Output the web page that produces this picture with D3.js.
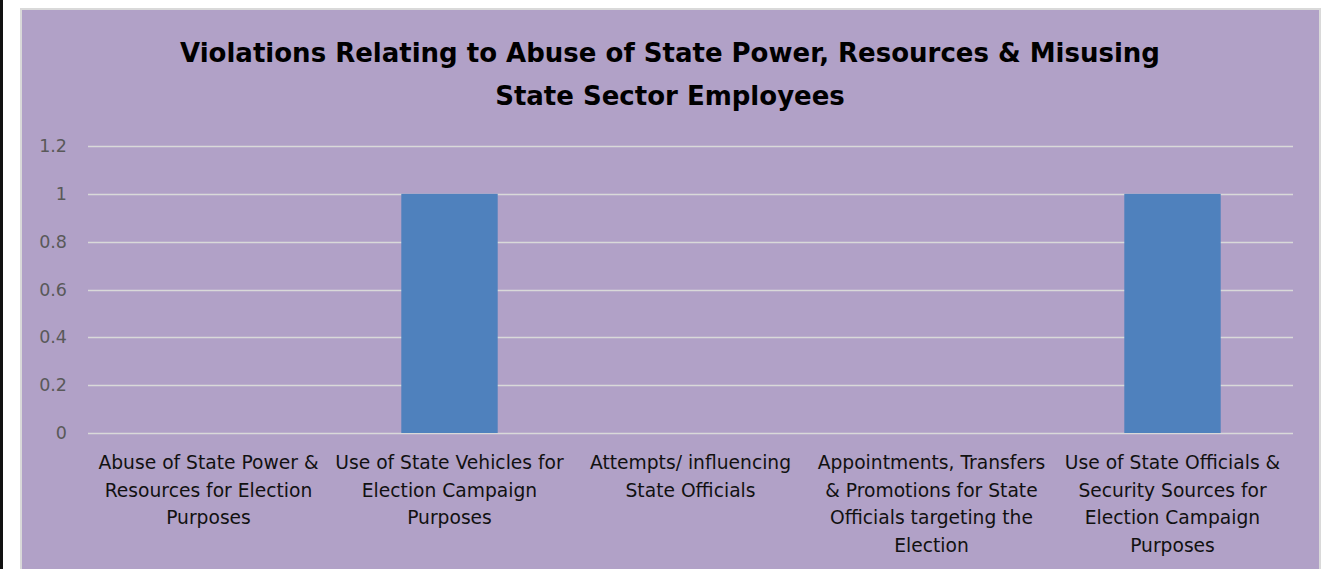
<!DOCTYPE html>
<html>
<head lang="en">
  <title>Violations chart</title>
  <script src="https://d3js.org/d3.v7.min.js" charset="utf-8"></script>
  <style>
    body { margin: 0; background: #fff; }
    svg { display: block; }
  </style>
</head>
<body>
  <script>
    // data
    var categories = [
      ["Abuse of State Power &", "Resources for Election", "Purposes"],
      ["Use of State Vehicles for", "Election Campaign", "Purposes"],
      ["Attempts/ influencing", "State Officials"],
      ["Appointments, Transfers", "& Promotions for State", "Officials targeting the", "Election"],
      ["Use of State Officials &", "Security Sources for", "Election Campaign", "Purposes"]
    ];
    var values = [0, 1, 0, 0, 1];
    var yTicks = [0, 0.2, 0.4, 0.6, 0.8, 1, 1.2];
    var titleLines = ["Violations Relating to Abuse of State Power, Resources & Misusing", "State Sector Employees"];

    var width = 1342;
    var height = 569;
    var font = "'DejaVu Sans', sans-serif";

    var svg = d3.select("body")
      .append("svg")
      .attr("width", width)
      .attr("height", height);

    // left black edge
    svg.append("rect")
      .attr("x", 0).attr("y", 0)
      .attr("width", 3).attr("height", height)
      .style("fill", "#111");

    // chart panel
    svg.append("rect")
      .attr("x", 21).attr("y", 9)
      .attr("width", 1299).attr("height", 580)
      .style("fill", "#b1a1c7")
      .style("stroke", "#d9d9d9")
      .style("stroke-width", 2);

    var x = d3.scaleBand()
      .domain(d3.range(categories.length))
      .range([88, 1293])
      .paddingInner(0.6)
      .paddingOuter(0.3);

    var y = d3.scaleLinear()
      .domain([0, 1.2])
      .range([433, 146]);

    // gridlines
    svg.append("g")
      .selectAll("line")
      .data(yTicks)
      .enter().append("line")
        .attr("x1", 88)
        .attr("x2", 1293)
        .attr("y1", function(d) { return Math.round(y(d)) + 0.5; })
        .attr("y2", function(d) { return Math.round(y(d)) + 0.5; })
        .style("stroke", "#d9d9d9")
        .style("stroke-width", 1.5);

    // y axis labels
    svg.append("g")
      .selectAll("text")
      .data(yTicks)
      .enter().append("text")
        .attr("x", 67)
        .attr("y", function(d) { return y(d); })
        .attr("dy", "0.35em")
        .attr("text-anchor", "end")
        .style("font-family", font)
        .style("font-size", "17.5px")
        .style("fill", "#595959")
        .text(function(d) { return d; });

    // bars
    svg.append("g")
      .selectAll("rect")
      .data(values)
      .enter().append("rect")
        .attr("x", function(d, i) { return x(i); })
        .attr("y", function(d) { return y(d); })
        .attr("width", x.bandwidth())
        .attr("height", function(d) { return y(0) - y(d); })
        .style("fill", "#4f81bd");

    // category labels
    var labels = svg.append("g")
      .selectAll("text")
      .data(categories)
      .enter().append("text")
        .attr("text-anchor", "middle")
        .style("font-family", font)
        .style("font-size", "18.7px")
        .style("fill", "#111");

    labels.selectAll("tspan")
      .data(function(d, i) { return d.map(function(s) { return {s: s, i: i}; }); })
      .enter().append("tspan")
        .attr("x", function(d) { return x(d.i) + x.bandwidth() / 2; })
        .attr("y", function(d, j) { return 469 + j * 27.5; })
        .text(function(d) { return d.s; });

    // title
    svg.append("text")
      .attr("text-anchor", "middle")
      .style("font-family", font)
      .style("font-size", "26px")
      .style("font-weight", "bold")
      .style("fill", "#000")
      .selectAll("tspan")
      .data(titleLines)
      .enter().append("tspan")
        .attr("x", 670)
        .attr("y", function(d, i) { return 62 + i * 43; })
        .text(function(d) { return d; });
  </script>
</body>
</html>
